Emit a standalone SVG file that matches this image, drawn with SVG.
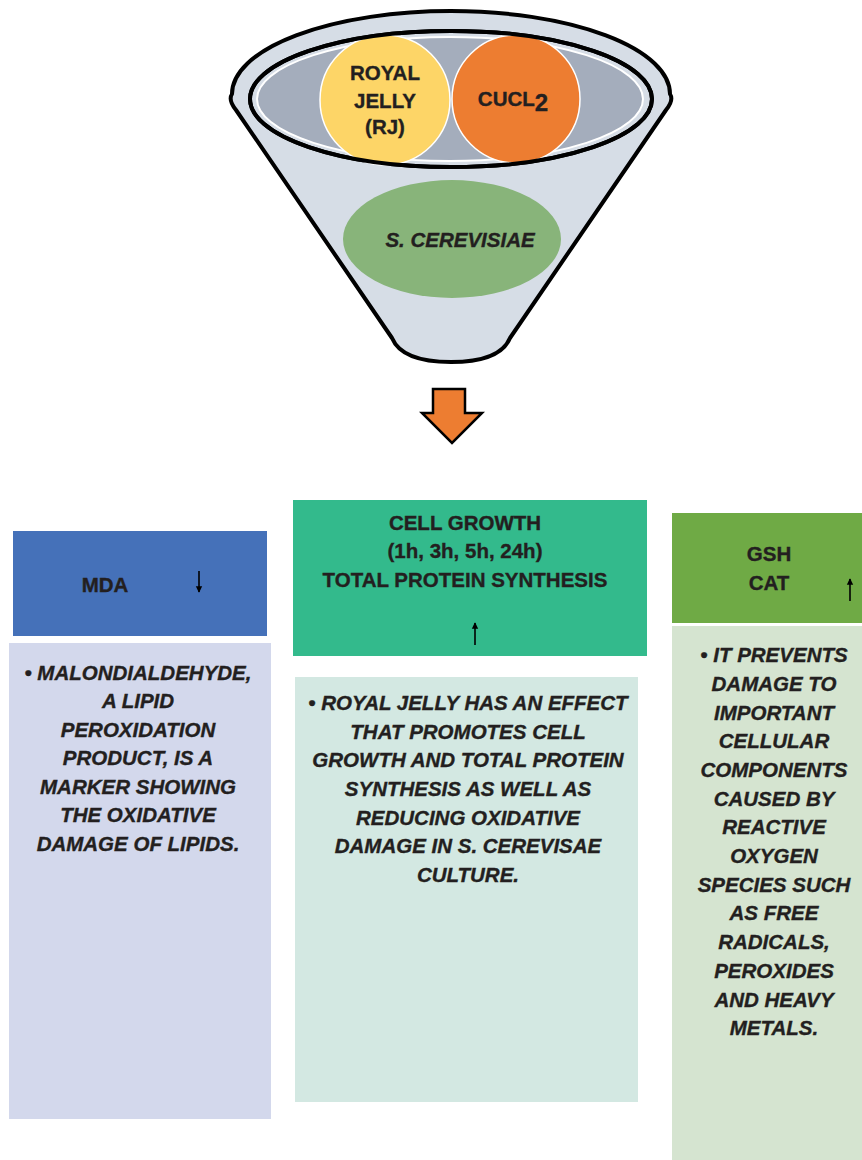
<svg xmlns="http://www.w3.org/2000/svg" width="862" height="1160" viewBox="0 0 862 1160">
<style>
text{font-family:"Liberation Sans",Arial,sans-serif;font-weight:bold;fill:#231f20;stroke:#231f20;stroke-width:0.35;font-size:20.5px;text-anchor:middle}
.it{font-style:italic}
.ln{stroke:#000;stroke-width:1.6;fill:none}
</style>
<defs>
<marker id="ah" viewBox="0 0 10 10" refX="9" refY="5" markerWidth="4" markerHeight="5" orient="auto" markerUnits="strokeWidth">
<path d="M0,0 L10,5 L0,10 Z" fill="#000"/>
</marker>
</defs>
<rect width="862" height="1160" fill="#fff"/>

<g id="funnel">
<path d="M236,110 Q228,100 232,94 A219,83 0 0 1 670,94 Q674,100 666,110 L510,338 Q500,362 451,362 Q402,362 392,338 Z" fill="#d6dde6" stroke="#000" stroke-width="4" stroke-linejoin="round"/>
<ellipse cx="451" cy="99" rx="201" ry="68" fill="#d6dde6" stroke="#000" stroke-width="4"/>
<ellipse cx="450" cy="99" rx="193" ry="62" fill="#a4adbc" stroke="#fff" stroke-width="2"/>
</g>
<g id="royal-jelly">
<circle cx="385" cy="100" r="65" fill="#fdd567" stroke="#fff" stroke-width="1.5"/>
<text x="385" y="80">ROYAL</text>
<text x="385" y="108">JELLY</text>
<text x="385" y="134">(RJ)</text>
</g>
<g id="cucl2">
<circle cx="516" cy="99" r="64" fill="#ed7d31" stroke="#fff" stroke-width="1.5"/>
<text x="513" y="106">CUCL<tspan font-size="24" dy="5">2</tspan></text>
</g>
<ellipse cx="451" cy="99" rx="201" ry="68" fill="none" stroke="#000" stroke-width="4"/>
<g id="cerevisiae">
<ellipse cx="452" cy="239" rx="109" ry="59" fill="#88b47a"/>
<text class="it" x="460" y="247">S. CEREVISIAE</text>
</g>

<g id="mda">
<rect x="13" y="531" width="254" height="105" fill="#4571b9"/>
<text x="105" y="592" font-size="21.5">MDA</text>
</g>
<g id="mda-body">
<rect x="9" y="643" width="262" height="476" fill="#d3d8ec"/>
<text class="it" x="138" y="680">• MALONDIALDEHYDE,</text>
<text class="it" x="138" y="708">A LIPID</text>
<text class="it" x="138" y="737">PEROXIDATION</text>
<text class="it" x="138" y="765">PRODUCT, IS A</text>
<text class="it" x="138" y="794">MARKER SHOWING</text>
<text class="it" x="138" y="822">THE OXIDATIVE</text>
<text class="it" x="138" y="851">DAMAGE OF LIPIDS.</text>
</g>

<g id="cell-growth">
<rect x="293" y="500" width="354" height="156" fill="#33ba8c"/>
<text x="465" y="530">CELL GROWTH</text>
<text x="465" y="558">(1h, 3h, 5h, 24h)</text>
<text x="465" y="587">TOTAL PROTEIN SYNTHESIS</text>
</g>
<g id="cell-growth-body">
<rect x="295" y="677" width="343" height="425" fill="#d3e8e2"/>
<text class="it" x="468" y="710">• ROYAL JELLY HAS AN EFFECT</text>
<text class="it" x="468" y="739">THAT PROMOTES CELL</text>
<text class="it" x="468" y="767">GROWTH AND TOTAL PROTEIN</text>
<text class="it" x="468" y="796">SYNTHESIS AS WELL AS</text>
<text class="it" x="468" y="825">REDUCING OXIDATIVE</text>
<text class="it" x="468" y="853">DAMAGE IN S. CEREVISAE</text>
<text class="it" x="468" y="882">CULTURE.</text>
</g>

<g id="gsh-cat">
<rect x="672" y="513" width="190" height="110" fill="#6faa45"/>
<text x="769" y="561">GSH</text>
<text x="769" y="590">CAT</text>
</g>
<g id="gsh-cat-body">
<rect x="672" y="626" width="190" height="534" fill="#d5e4d0"/>
<text class="it" x="774" y="662">• IT PREVENTS</text>
<text class="it" x="774" y="691">DAMAGE TO</text>
<text class="it" x="774" y="720">IMPORTANT</text>
<text class="it" x="774" y="748">CELLULAR</text>
<text class="it" x="774" y="777">COMPONENTS</text>
<text class="it" x="774" y="806">CAUSED BY</text>
<text class="it" x="774" y="834">REACTIVE</text>
<text class="it" x="774" y="863">OXYGEN</text>
<text class="it" x="774" y="892">SPECIES SUCH</text>
<text class="it" x="774" y="920">AS FREE</text>
<text class="it" x="774" y="949">RADICALS,</text>
<text class="it" x="774" y="978">PEROXIDES</text>
<text class="it" x="774" y="1007">AND HEAVY</text>
<text class="it" x="774" y="1035">METALS.</text>
</g>

<g id="connectors">
<path d="M433,389 L465,389 L465,413 L482,413 L452,443 L422,413 L433,413 Z" fill="#ed7d31" stroke="#000" stroke-width="2.5" stroke-linejoin="miter"/>
<line class="ln" x1="199" y1="571" x2="199" y2="592" marker-end="url(#ah)"/>
<line class="ln" x1="475" y1="645" x2="475" y2="623" marker-end="url(#ah)"/>
<line class="ln" x1="850" y1="601" x2="850" y2="579" marker-end="url(#ah)"/>
</g>
</svg>
